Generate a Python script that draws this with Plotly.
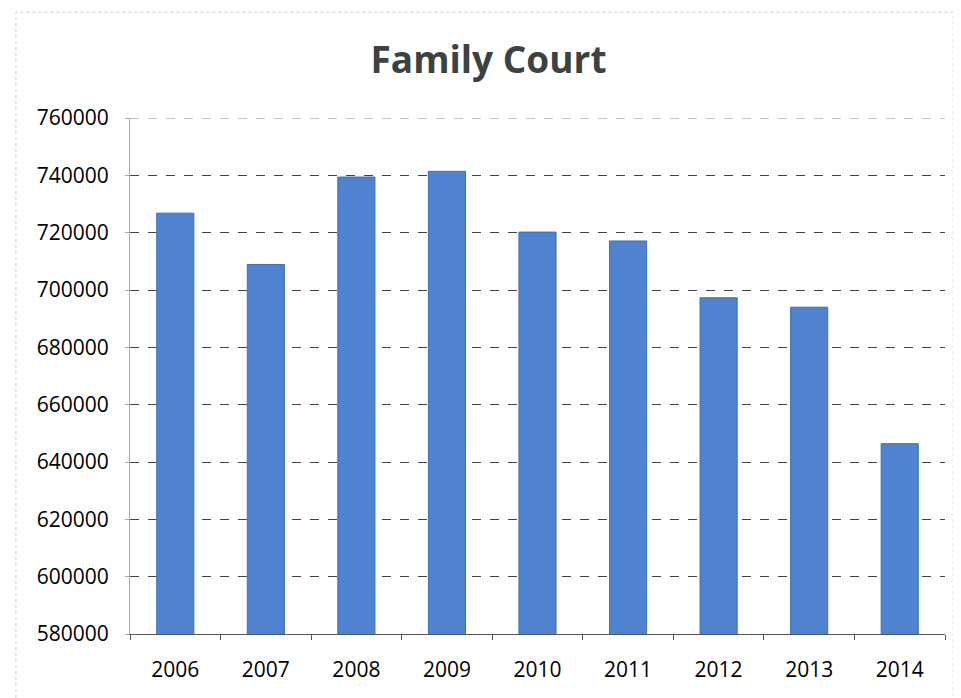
import plotly.graph_objects as go

years = ["2006", "2007", "2008", "2009", "2010", "2011", "2012", "2013", "2014"]
cases = [726800, 708900, 739400, 741400, 720200, 717100, 697300, 694000, 646400]
y_ticks = [580000, 600000, 620000, 640000, 660000, 680000, 700000, 720000, 740000, 760000]

fig = go.Figure()
fig.add_trace(go.Bar(
    x=years, y=cases,
    marker=dict(color="#4f82cf", line=dict(color="#3f6fb8", width=1)),
    width=0.41,
))

fig.update_layout(
    width=961, height=698,
    paper_bgcolor="white", plot_bgcolor="white",
    margin=dict(l=122, r=24, t=110, b=72),
    title=dict(text="<b>Family Court</b>", x=0.5, xanchor="center", y=0.925, yanchor="middle",
               font=dict(family="Open Sans", size=37, color="#3b423f")),
    showlegend=False,
    font=dict(family="Open Sans", size=21, color="#000"),
)
fig.update_yaxes(
    range=[580000, 760000], tickvals=y_ticks, ticktext=[str(v) for v in y_ticks],
    showgrid=True, gridcolor="#444", gridwidth=1, griddash="dash",
    showline=True, linecolor="#aaa", linewidth=1,
    ticks="outside", ticklen=4, tickcolor="#aaa", ticklabelstandoff=12,
    tickfont=dict(family="Open Sans", size=21, color="#000"),
    zeroline=False,
)
fig.update_xaxes(
    showline=True, linecolor="#555", linewidth=1,
    ticks="outside", ticklen=5, tickcolor="#555", tickson="boundaries",
    ticklabelstandoff=17,
    tickfont=dict(family="Open Sans", size=21, color="#000"),
)
fig.add_shape(type="line", xref="paper", yref="y", x0=0, x1=1, y0=y_ticks[-1], y1=y_ticks[-1],
              line=dict(color="#888", width=1, dash="dash"))
fig.add_shape(type="rect", xref="paper", yref="paper", x0=-0.14, x1=1.01, y0=-0.13, y1=1.205,
              line=dict(color="#ccc", width=1, dash="dot"))
fig.write_html("out.html")
